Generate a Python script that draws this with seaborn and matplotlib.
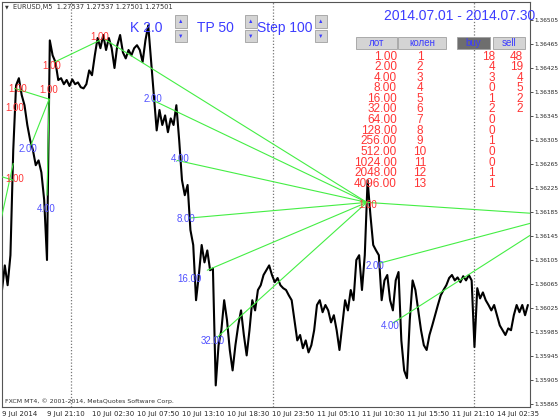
import numpy as np
import pandas as pd
import matplotlib.pyplot as plt
import seaborn as sns
from matplotlib.patches import Rectangle

W, H = 560, 420

# EURUSD M5 close, every 4 bars (in 1e-5)
PRICE5 = [136055, 136096, 136063, 136113, 136288, 136396, 136408, 136380, 136363, 136330,
          136305, 136288, 136263, 136271, 136251, 136205, 136105, 136471, 136446, 136435,
          136405, 136408, 136398, 136405, 136395, 136406, 136398, 136401, 136393, 136391,
          136398, 136421, 136413, 136446, 136475, 136458, 136480, 136455, 136475, 136458,
          136425, 136463, 136480, 136451, 136441, 136455, 136446, 136458, 136463, 136455,
          136435, 136471, 136496, 136438, 136380, 136321, 136355, 136330, 136346, 136318,
          136341, 136330, 136363, 136305, 136238, 136213, 136230, 136155, 136130, 136038,
          136080, 136130, 136101, 136121, 136088, 136091, 135896, 135963, 135988, 136038,
          136005, 135955, 135921, 135963, 135996, 136021, 135980, 135946, 135988, 136038,
          136021, 136055, 136063, 136080, 136088, 136096, 136080, 136068, 136075, 136063,
          136058, 136055, 136046, 136038, 136005, 135971, 135980, 135958, 135971, 135951,
          135963, 135988, 136030, 136038, 136018, 136030, 136021, 136001, 136013, 135988,
          135955, 135996, 136038, 136021, 136055, 136038, 136105, 136113, 136055, 136113,
          136238, 136180, 136130, 136121, 136113, 136038, 136071, 136080, 136038, 136021,
          136071, 136085, 135971, 135921, 135908, 136005, 136071, 136055, 136021, 135988,
          135963, 135955, 135980, 135996, 136013, 136030, 136046, 136055, 136063, 136075,
          136080, 136071, 136076, 136068, 136078, 136071, 136080, 136071, 135960, 136058,
          136041, 136051, 136038, 136030, 136021, 136030, 136013, 135996, 135988, 135980,
          135991, 135988, 136013, 136030, 136018, 136030, 136013, 136030]
BAR_STEP = 4

TIME_LABELS = ["9 Jul 2014", "9 Jul 21:10", "10 Jul 02:30", "10 Jul 07:50", "10 Jul 13:10",
               "10 Jul 18:30", "10 Jul 23:50", "11 Jul 05:10", "11 Jul 10:30", "11 Jul 15:50",
               "11 Jul 21:10", "14 Jul 02:35"]
BARS_PER_LABEL = 64
DAY_SEPARATORS = [98, 386, 672]

# lock lines: start bar, start price, end bar, end price
LINE_B0 = [-4, -4, 18, 40, 64, 75, 146, 215, 249, 267, 292, 306, 519, 538, 556]
LINE_P0 = [136245, 136158, 136391, 136293, 136213, 136435, 136473, 136371, 136271, 136175, 136088, 135976, 136201, 136100, 136000]
LINE_B1 = [16, 16, 67, 67, 67, 139, 519, 519, 519, 519, 519, 519, 751, 751, 751]
LINE_P1 = [136238, 136266, 136373, 136373, 136373, 136471, 136201, 136201, 136201, 136201, 136201, 136201, 136183, 136166, 136146]

# level labels on the chart
RED_TXT = ["1.00"] * 7
RED_B = [18, 18, 23, 70, 67, 139, 520]
RED_P = [136240, 136358, 136390, 136428, 136388, 136476, 136196]
BLUE_TXT = ["2.00", "4.00", "2.00", "4.00", "8.00", "16.00", "32.00", "2.00", "4.00"]
BLUE_B = [37, 63, 215, 253, 262, 267, 300, 530, 552]
BLUE_P = [136290, 136190, 136373, 136273, 136173, 136073, 135970, 136095, 135995]

# stats table
LOTS = ["1.00", "2.00", "4.00", "8.00", "16.00", "32.00", "64.00", "128.00", "256.00",
        "512.00", "1024.00", "2048.00", "4096.00"]
KOLEN = [1, 2, 3, 4, 5, 6, 7, 8, 9, 10, 11, 12, 13]
BUY = [18, 4, 3, 0, 1, 2, 0, 0, 1, 0, 0, 1, 1]
SELL = [48, 19, 4, 5, 2, 2]

sns.set_style("white")
plt.rcParams['font.family'] = ['Liberation Sans', 'DejaVu Sans']

BLUE = '#3c3cff'
RED = '#ff3535'
GREEN = '#44ee44'

fig = plt.figure(figsize=(W / 100, H / 100), dpi=100)
ax = fig.add_axes([2 / W, 1 - 407 / H, 528 / W, 405 / H])

df = pd.DataFrame({"bar": np.arange(len(PRICE5)) * BAR_STEP,
                   "price": np.array(PRICE5) / 1e5})
sns.lineplot(data=df, x="bar", y="price", color="black", linewidth=1.5,
             estimator=None, ax=ax, zorder=2)

for b0, p0, b1, p1 in zip(LINE_B0, LINE_P0, LINE_B1, LINE_P1):
    ax.plot([b0, b1], [p0 / 1e5, p1 / 1e5], color=GREEN, linewidth=0.8, zorder=3)

for b in DAY_SEPARATORS:
    ax.axvline(b, color='#777777', linestyle=(0, (1, 1.5)), linewidth=0.9, zorder=1)

for t, b, p in zip(RED_TXT, RED_B, RED_P):
    ax.text(b, p / 1e5, t, color=RED, fontsize=7, ha='center', va='center', zorder=4)
for t, b, p in zip(BLUE_TXT, BLUE_B, BLUE_P):
    ax.text(b, p / 1e5, t, color='#5050ff', fontsize=7, ha='center', va='center', zorder=4)

ax.set_xlim(0, 751)
ax.set_ylim(1.35860, 1.36535)
ax.set_xlabel("")
ax.set_ylabel("")

ax.set_xticks(np.arange(len(TIME_LABELS)) * BARS_PER_LABEL)
ax.set_xticklabels(TIME_LABELS, ha='left', fontsize=5, family='DejaVu Sans')
yt = np.round(1.35865 + 0.0004 * np.arange(17), 5)
ax.yaxis.tick_right()
ax.set_yticks(yt)
ax.set_yticklabels([f"{v:.5f}" for v in yt], fontsize=4.2, family='DejaVu Sans')
ax.tick_params(axis='both', direction='out', length=2, width=0.6, color='#333333', pad=1)
for s in ax.spines.values():
    s.set_color('#555555')
    s.set_linewidth(0.8)


def fx(x):
    return x / W


def fy(y):
    return 1 - y / H


def button(x0, y0, x1, y1, face, zorder=5):
    fig.patches.append(Rectangle((fx(x0), fy(y1)), fx(x1) - fx(x0), fy(y0) - fy(y1),
                                 transform=fig.transFigure, facecolor=face,
                                 edgecolor='#a0a0a0', linewidth=0.6, zorder=zorder))


# header and footer
fig.text(fx(5), fy(6.5), "▼", fontsize=3.5, color='#333333', ha='left', va='center', family='DejaVu Sans')
fig.text(fx(13), fy(6.5), "EURUSD,M5  1.27537 1.27537 1.27501 1.27501", fontsize=4.8,
         color='#333333', ha='left', va='center', family='DejaVu Sans')
fig.text(fx(5), fy(401), "FXCM MT4, © 2001-2014, MetaQuotes Software Corp.", fontsize=4.5,
         color='#333333', ha='left', va='center', family='DejaVu Sans')

# parameter controls
for label, cx, bx in [("K 2.0", 146, 175), ("TP 50", 215, 245), ("Step 100", 285, 315)]:
    fig.text(fx(cx), fy(28), label, fontsize=10, color=BLUE, ha='center', va='center')
    button(bx, 15, bx + 12, 28, '#d4d4d4')
    button(bx, 30, bx + 12, 42, '#d4d4d4')
    fig.text(fx(bx + 6), fy(21.5), "▲", fontsize=4, color=BLUE, ha='center', va='center', zorder=6)
    fig.text(fx(bx + 6), fy(36), "▼", fontsize=4, color=BLUE, ha='center', va='center', zorder=6)

fig.text(fx(460), fy(16), "2014.07.01 - 2014.07.30", fontsize=10, color=BLUE, ha='center', va='center')

# table header buttons
for label, x0, x1, face in [("лот", 356, 397, '#d4d4d4'), ("колен", 398, 446, '#d4d4d4'),
                            ("buy", 457, 490, '#6e6e6e'), ("sell", 493, 525, '#d4d4d4')]:
    button(x0, 37, x1, 49, face)
    fig.text(fx((x0 + x1) / 2), fy(43), label, fontsize=7, color=BLUE, ha='center', va='center', zorder=6)

ROW0, ROW_H = 56.5, 10.6
for i, lot in enumerate(LOTS):
    y = fy(ROW0 + i * ROW_H)
    fig.text(fx(397), y, lot, fontsize=8.5, color=RED, ha='right', va='center', zorder=6)
    fig.text(fx(420), y, str(KOLEN[i]), fontsize=8.5, color=RED, ha='center', va='center', zorder=6)
    fig.text(fx(495), y, str(BUY[i]), fontsize=8.5, color=RED, ha='right', va='center', zorder=6)
for i, s in enumerate(SELL):
    fig.text(fx(523), fy(ROW0 + i * ROW_H), str(s), fontsize=8.5, color=RED, ha='right', va='center', zorder=6)

fig.savefig("out.png", dpi=100)
